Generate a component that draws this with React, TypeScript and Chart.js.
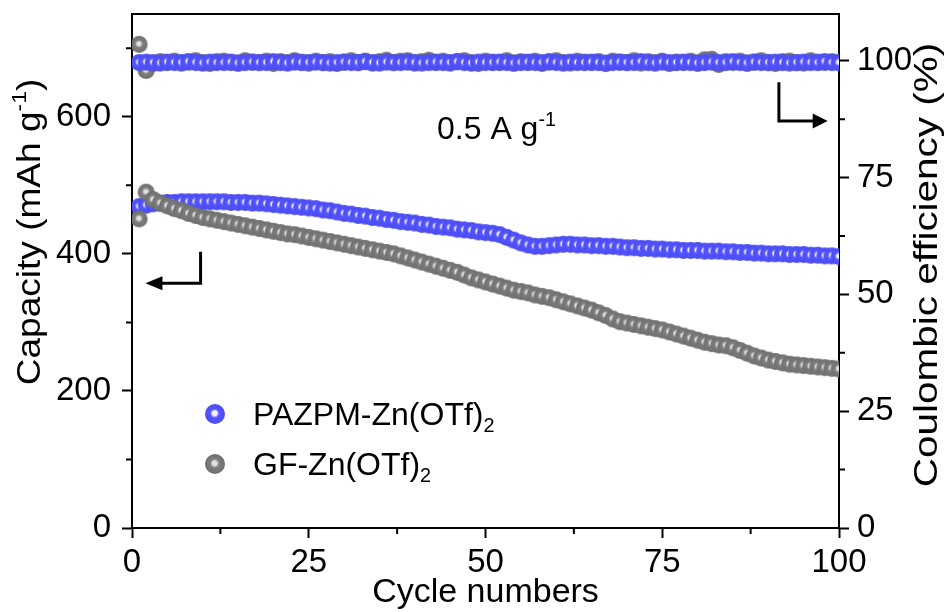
import React, { useEffect, useRef } from 'react';
import { Chart, registerables } from 'chart.js';
Chart.register(...registerables);

const cycles = [1,2,3,4,5,6,7,8,9,10,11,12,13,14,15,16,17,18,19,20,21,22,23,24,25,26,27,28,29,30,31,32,33,34,35,36,37,38,39,40,41,42,43,44,45,46,47,48,49,50,51,52,53,54,55,56,57,58,59,60,61,62,63,64,65,66,67,68,69,70,71,72,73,74,75,76,77,78,79,80,81,82,83,84,85,86,87,88,89,90,91,92,93,94,95,96,97,98,99,100];

const pazpmCapacity = [469,471,473,474,475,475,476,476,476,476,476,476,476,475,475,475,474,474,473,472,471,470,469,468,467,466,464,463,461,459,458,456,455,453,452,450,449,447,446,445,443,442,440,439,438,436,435,434,432,431,430,428,424,420,416,413,411,411,412,413,414,414,413,413,412,412,411,411,410,409,409,408,408,407,407,406,406,405,405,405,404,404,404,403,403,402,402,401,401,400,400,400,399,399,399,398,398,397,397,396];

const gfCapacity = [451,490,479,474,470,466,463,459,456,453,451,449,447,445,443,441,439,437,435,433,431,429,428,426,424,422,420,418,416,414,412,410,408,406,404,402,400,397,394,391,388,385,382,379,376,373,369,365,362,359,356,353,350,347,345,343,340,338,336,333,330,327,324,321,318,314,310,305,301,299,297,295,293,291,289,286,283,280,277,274,271,269,267,266,263,259,255,251,248,245,243,241,239,238,237,236,235,234,233,232];

const pazpmCE = [99.6,99.7,99.6,99.5,99.7,99.6,99.6,99.8,99.6,99.5,99.7,99.6,99.6,99.7,99.5,99.6,99.7,99.6,99.6,99.8,99.6,99.5,99.7,99.6,99.6,99.7,99.6,99.5,99.6,99.7,99.6,99.6,99.8,99.6,99.5,99.7,99.6,99.6,99.7,99.6,99.5,99.6,99.7,99.6,99.6,99.8,99.6,99.5,99.7,99.6,99.6,99.7,99.6,99.5,99.6,99.7,99.6,99.6,99.8,99.6,99.5,99.7,99.6,99.6,99.7,99.6,99.5,99.6,99.7,99.6,99.6,99.8,99.6,99.5,99.7,99.6,99.6,99.7,99.6,99.5,99.6,99.7,99.6,99.6,99.8,99.6,99.5,99.7,99.6,99.6,99.7,99.6,99.5,99.6,99.7,99.6,99.6,99.8,99.6,99.6];

const gfCE = [103.5,97.9,99.4,99.8,99.6,99.9,99.5,99.7,100.0,99.6,99.4,99.8,99.9,99.6,99.5,100.0,99.7,99.6,99.9,99.4,99.8,99.6,100.0,99.7,99.5,99.9,99.6,99.8,99.4,99.7,100.0,99.6,99.9,99.5,99.8,100.1,99.6,99.9,100.0,99.5,99.8,100.1,99.6,99.9,99.5,99.8,100.0,99.6,99.4,99.9,99.7,99.6,100.0,99.5,99.8,99.6,99.9,99.4,99.7,100.0,99.6,99.5,99.9,99.7,99.6,99.8,99.4,99.9,99.7,99.6,100.0,99.5,99.8,99.6,99.9,99.4,99.7,99.6,99.9,99.5,100.2,100.3,99.2,99.8,99.6,99.9,99.5,99.7,100.0,99.6,99.4,99.8,99.9,99.6,99.5,100.0,99.7,99.6,99.8,99.6];

const xTicks = [0, 25, 50, 75, 100];
const capTicks = [0, 200, 400, 600];
const ceTicks = [0, 25, 50, 75, 100];
const xMinorTicks = [12.5, 37.5, 62.5, 87.5];
const capMinorTicks = [100, 300, 500, 700];
const ceMinorTicks = [12.5, 37.5, 62.5, 87.5];

const seriesNames = ['PAZPM-Zn(OTf)', 'GF-Zn(OTf)'];
const xTitle = 'Cycle numbers';
const capTitle = 'Capacity (mAh g';
const ceTitle = 'Coulombic efficiency (%)';
const rateText = '0.5 A g';

const FONT = '"Liberation Sans", Arial, Helvetica, sans-serif';
const BLUE = '#5555ff';
const GRAY = '#7e7e7e';

type Seg = { t: string; sup?: boolean; sub?: boolean };

function makeSphere(base: string, light: string, edge: string, r: number) {
  const s = Math.ceil(r * 2 + 2);
  const c = document.createElement('canvas');
  c.width = s; c.height = s;
  const ctx = c.getContext('2d')!;
  const cx = s / 2, cy = s / 2;
  const g = ctx.createRadialGradient(cx - r * 0.05, cy - r * 0.1, 0, cx, cy, r);
  g.addColorStop(0, light);
  g.addColorStop(0.22, light);
  g.addColorStop(0.45, base);
  g.addColorStop(1, edge);
  ctx.fillStyle = g;
  ctx.beginPath();
  ctx.arc(cx, cy, r, 0, Math.PI * 2);
  ctx.fill();
  return c;
}

function drawRich(ctx: CanvasRenderingContext2D, segs: Seg[], x: number, y: number, size: number, align: 'left' | 'center', rot = 0, stretch = 1) {
  ctx.save();
  ctx.translate(x, y);
  ctx.rotate(rot);
  ctx.scale(stretch, 1);
  ctx.textAlign = 'left';
  ctx.textBaseline = 'alphabetic';
  ctx.fillStyle = '#000';
  const ws = segs.map((s) => {
    const fs = s.sup || s.sub ? size * 0.62 : size;
    ctx.font = `${fs}px ${FONT}`;
    return ctx.measureText(s.t).width;
  });
  const total = ws.reduce((a, b) => a + b, 0);
  let cx = align === 'center' ? -total / 2 : 0;
  segs.forEach((s, i) => {
    const fs = s.sup || s.sub ? size * 0.62 : size;
    const dy = s.sup ? -size * 0.4 : s.sub ? size * 0.22 : 0;
    ctx.font = `${fs}px ${FONT}`;
    ctx.fillText(s.t, cx, dy);
    cx += ws[i];
  });
  ctx.restore();
}

function arrow(ctx: CanvasRenderingContext2D, pts: [number, number][], head: number, half: number) {
  ctx.save();
  ctx.strokeStyle = '#000';
  ctx.fillStyle = '#000';
  ctx.lineWidth = 3;
  ctx.lineJoin = 'miter';
  const n = pts.length;
  const [tx, ty] = pts[n - 1];
  const [px, py] = pts[n - 2];
  const dx = Math.sign(tx - px), dy = Math.sign(ty - py);
  const bx = tx - dx * head, by = ty - dy * head;
  ctx.beginPath();
  ctx.moveTo(pts[0][0], pts[0][1]);
  for (let i = 1; i < n - 1; i++) ctx.lineTo(pts[i][0], pts[i][1]);
  ctx.lineTo(bx + dx, by + dy);
  ctx.stroke();
  ctx.beginPath();
  ctx.moveTo(tx, ty);
  ctx.lineTo(bx - dy * half, by - dx * half);
  ctx.lineTo(bx + dy * half, by + dx * half);
  ctx.closePath();
  ctx.fill();
  ctx.restore();
}

export default function App() {
  const ref = useRef<HTMLCanvasElement>(null);
  useEffect(() => {
    const blueDot = makeSphere(BLUE, '#f4f4ff', '#4b4bf2', 8.5);
    const grayDot = makeSphere(GRAY, '#e2e2e2', '#6e6e6e', 8.5);
    const blueLeg = makeSphere(BLUE, '#f4f4ff', '#4b4bf2', 10);
    const grayLeg = makeSphere(GRAY, '#e2e2e2', '#6e6e6e', 10);

    const decor = {
      id: 'decor',
      afterDraw(chart: any) {
        const ctx: CanvasRenderingContext2D = chart.ctx;
        const area = chart.chartArea;
        const xs = chart.scales.x, ys = chart.scales.y, y1 = chart.scales.y1;
        ctx.save();
        ctx.fillStyle = '#000';
        ctx.fillRect(area.left - 1, area.top - 1, area.right - area.left + 2, 2);
        ctx.strokeStyle = '#000';
        ctx.lineWidth = 2;
        ctx.beginPath();
        xMinorTicks.forEach((v) => {
          const p = xs.getPixelForValue(v);
          ctx.moveTo(p, area.bottom); ctx.lineTo(p, area.bottom + 6);
        });
        capMinorTicks.forEach((v) => {
          const p = ys.getPixelForValue(v);
          ctx.moveTo(area.left, p); ctx.lineTo(area.left - 6, p);
        });
        ceMinorTicks.forEach((v) => {
          const p = y1.getPixelForValue(v);
          ctx.moveTo(area.right, p); ctx.lineTo(area.right + 6, p);
        });
        ctx.stroke();
        ctx.restore();

        // arrows
        arrow(ctx, [
          [xs.getPixelForValue(9.7), ys.getPixelForValue(403)],
          [xs.getPixelForValue(9.7), ys.getPixelForValue(357)],
          [xs.getPixelForValue(1.9), ys.getPixelForValue(357)],
        ], 17, 7);
        arrow(ctx, [
          [xs.getPixelForValue(91.5), y1.getPixelForValue(95.4)],
          [xs.getPixelForValue(91.5), y1.getPixelForValue(87.1)],
          [xs.getPixelForValue(98.4), y1.getPixelForValue(87.1)],
        ], 15, 7.5);

        // rate label
        drawRich(ctx, [{ t: rateText }, { t: '-1', sup: true }], 437, 139, 32, 'left');

        // axis titles
        drawRich(ctx, [{ t: xTitle }], (area.left + area.right) / 2, 602, 34, 'center');
        drawRich(ctx, [{ t: capTitle }, { t: '-1', sup: true }, { t: ')' }], 40, 232, 34, 'center', -Math.PI / 2, 1.09);
        drawRich(ctx, [{ t: ceTitle }], 937, 265, 34, 'center', -Math.PI / 2, 1.19);

        // legend
        ctx.drawImage(blueLeg, 215 - blueLeg.width / 2, 414 - blueLeg.height / 2);
        ctx.drawImage(grayLeg, 215 - grayLeg.width / 2, 464 - grayLeg.height / 2);
        drawRich(ctx, [{ t: seriesNames[0] }, { t: '2', sub: true }], 253, 425, 32, 'left');
        drawRich(ctx, [{ t: seriesNames[1] }, { t: '2', sub: true }], 253, 475, 32, 'left');
      },
    };

    const fixTicks = (arr: number[]) => (scale: any) => {
      scale.ticks = arr.map((v) => ({ value: v }));
    };
    const tickFont = { family: FONT, size: 33 };

    const chart = new Chart(ref.current!, {
      type: 'scatter',
      data: {
        datasets: [
          { label: seriesNames[1] + '2', data: cycles.map((c, i) => ({ x: c, y: gfCapacity[i] })), yAxisID: 'y', pointStyle: grayDot as any, order: 0 },
          { label: seriesNames[0] + '2', data: cycles.map((c, i) => ({ x: c, y: pazpmCapacity[i] })), yAxisID: 'y', pointStyle: blueDot as any, order: 1 },
          { label: 'CE ' + seriesNames[0], data: cycles.map((c, i) => ({ x: c, y: pazpmCE[i] })), yAxisID: 'y1', pointStyle: blueDot as any, order: 2 },
          { label: 'CE ' + seriesNames[1], data: cycles.map((c, i) => ({ x: c, y: gfCE[i] })), yAxisID: 'y1', pointStyle: grayDot as any, order: 3 },
        ],
      },
      options: {
        responsive: false,
        animation: false,
        devicePixelRatio: 1,
        layout: { padding: { top: 0, left: 0, right: 0, bottom: 0 } },
        plugins: { legend: { display: false }, tooltip: { enabled: false } },
        elements: { point: { radius: 8.5 } },
        scales: {
          x: {
            type: 'linear', min: 0, max: 100,
            afterBuildTicks: fixTicks(xTicks),
            afterFit: (s: any) => { s.height = 84; s.paddingLeft = 0; s.paddingRight = 0; },
            grid: { drawOnChartArea: false, tickLength: 10, tickWidth: 2, tickColor: '#000' },
            border: { color: '#000', width: 2 },
            ticks: { font: tickFont, color: '#000', padding: 5, maxRotation: 0 },
          },
          x2: {
            type: 'linear', position: 'top', min: 0, max: 100,
            afterFit: (s: any) => { s.height = 14; s.paddingLeft = 0; s.paddingRight = 0; },
            grid: { drawOnChartArea: false, drawTicks: false },
            border: { display: true, color: '#000', width: 2 },
            ticks: { display: false },
          },
          y: {
            type: 'linear', position: 'left', min: 0, max: 750,
            afterBuildTicks: fixTicks(capTicks),
            afterFit: (s: any) => { s.width = 132; s.paddingTop = 0; s.paddingBottom = 0; },
            grid: { drawOnChartArea: false, tickLength: 10, tickWidth: 2, tickColor: '#000' },
            border: { color: '#000', width: 2 },
            ticks: { font: tickFont, color: '#000', padding: 11 },
          },
          y1: {
            type: 'linear', position: 'right', min: 0, max: 110,
            afterBuildTicks: fixTicks(ceTicks),
            afterFit: (s: any) => { s.width = 108; s.paddingTop = 0; s.paddingBottom = 0; },
            grid: { drawOnChartArea: false, tickLength: 10, tickWidth: 2, tickColor: '#000' },
            border: { color: '#000', width: 2 },
            ticks: { font: tickFont, color: '#000', padding: 8 },
          },
        },
      },
      plugins: [decor],
    });
    return () => chart.destroy();
  }, []);

  return (
    <div style={{ position: 'absolute', left: 0, top: 0, width: 947, height: 612, background: '#fff' }}>
      <canvas ref={ref} width={947} height={612} />
    </div>
  );
}
